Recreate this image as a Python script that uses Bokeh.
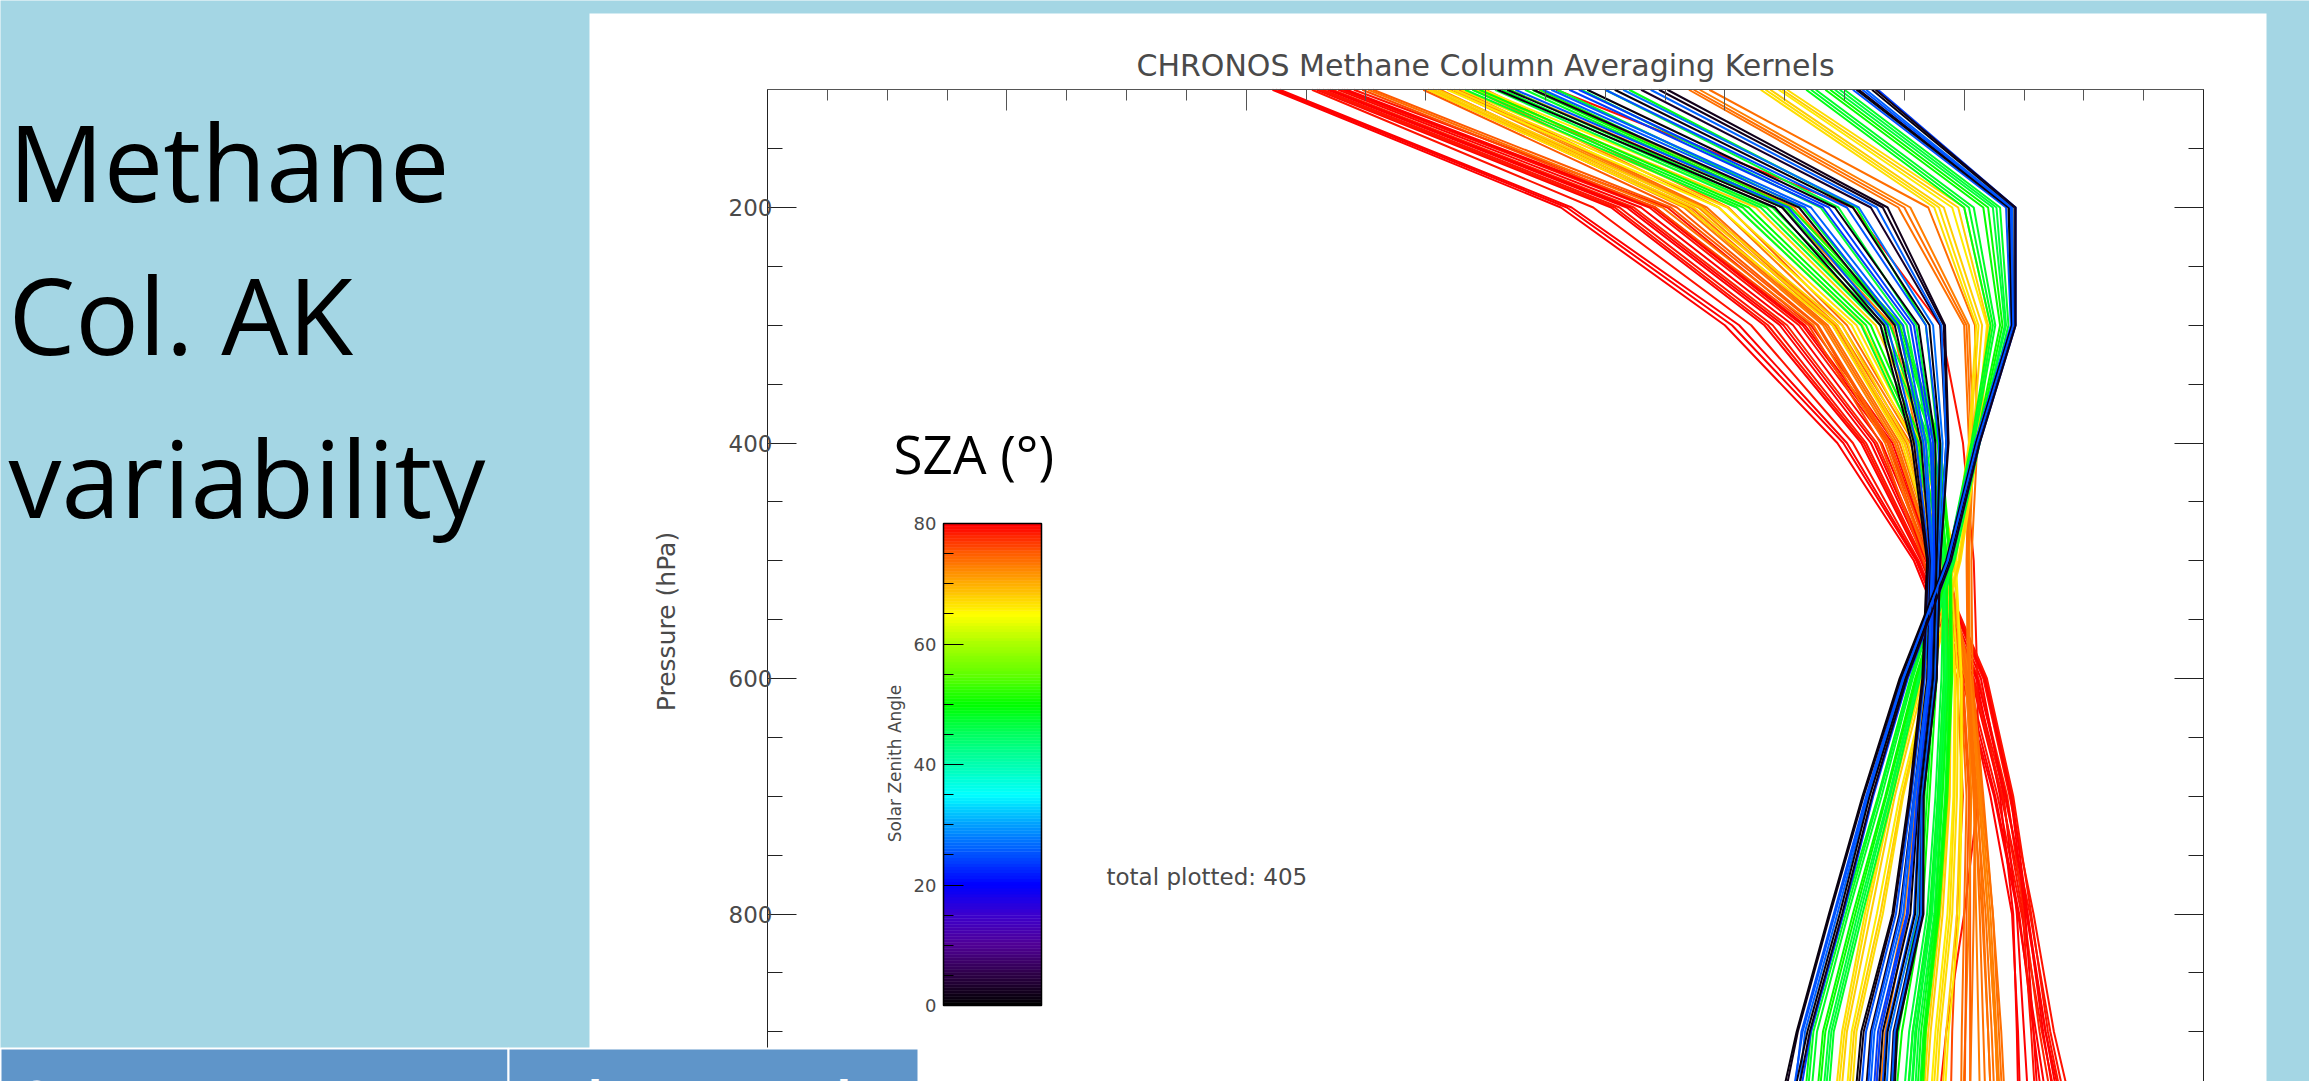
import numpy as np
from bokeh.plotting import figure
from bokeh.models import (Range1d, LinearAxis, FixedTicker, Label,
                          LinearColorMapper, ColumnDataSource)
from bokeh.transform import transform
from bokeh.embed import file_html
from bokeh.resources import INLINE

# ---------------------------------------------------------------- data
# pressure levels (hPa) of every averaging-kernel profile
pressure = [100, 200, 300, 400, 500, 600, 700, 800, 900, 1000]

# column averaging kernels, one row per retrieval, grouped by solar zenith angle
sza_red = [80, 80, 79, 80, 79, 80, 78, 80, 79, 80, 79, 80, 79, 80, 80, 79]
ak_red = [
    [0.422, 0.663, 0.800, 0.894, 0.958, 0.998, 1.025, 1.045, 1.060, 1.075],
    [0.425, 0.668, 0.806, 0.899, 0.960, 1.000, 1.022, 1.040, 1.045, 1.048],
    [0.455, 0.690, 0.822, 0.907, 0.962, 1.003, 1.028, 1.048, 1.065, 1.085],
    [0.459, 0.705, 0.833, 0.914, 0.964, 1.006, 1.031, 1.052, 1.068, 1.090],
    [0.464, 0.712, 0.840, 0.918, 0.966, 1.008, 1.034, 1.055, 1.072, 1.093],
    [0.468, 0.718, 0.846, 0.922, 0.968, 1.010, 1.030, 1.041, 1.044, 1.046],
    [0.472, 0.724, 0.852, 0.927, 0.970, 1.012, 1.036, 1.050, 1.063, 1.080],
    [0.477, 0.730, 0.857, 0.931, 0.972, 1.014, 1.033, 1.044, 1.050, 1.056],
    [0.480, 0.737, 0.862, 0.936, 0.974, 1.016, 1.038, 1.058, 1.075, 1.098],
    [0.484, 0.742, 0.867, 0.940, 0.976, 1.018, 1.040, 1.053, 1.066, 1.082],
    [0.659, 0.907, 0.980, 0.999, 1.008, 1.011, 1.012, 1.000, 0.985, 0.975],
    [0.428, 0.672, 0.812, 0.902, 0.961, 1.001, 1.026, 1.046, 1.058, 1.070],
    [0.461, 0.708, 0.836, 0.916, 0.965, 1.007, 1.032, 1.049, 1.056, 1.062],
    [0.470, 0.721, 0.849, 0.925, 0.969, 1.011, 1.035, 1.053, 1.068, 1.086],
    [0.482, 0.740, 0.865, 0.938, 0.975, 1.017, 1.039, 1.051, 1.058, 1.064],
    [0.490, 0.752, 0.872, 0.942, 0.977, 1.019, 1.041, 1.056, 1.070, 1.090],
]

sza_orange = [76, 74, 75, 73, 74, 72, 74, 73, 73, 74, 73, 74,
              75, 74, 73, 74, 73, 74]
ak_orange = [
    [0.497, 0.742, 0.870, 0.930, 0.966, 0.994, 0.999, 0.994, 0.990, 0.988],
    [0.502, 0.748, 0.874, 0.934, 0.969, 0.997, 1.002, 1.000, 0.998, 0.997],
    [0.548, 0.760, 0.878, 0.938, 0.972, 0.999, 1.005, 1.005, 1.005, 1.005],
    [0.556, 0.766, 0.882, 0.942, 0.975, 1.001, 1.008, 1.010, 1.012, 1.014],
    [0.562, 0.772, 0.886, 0.946, 0.978, 1.003, 1.011, 1.016, 1.020, 1.024],
    [0.570, 0.778, 0.890, 0.950, 0.981, 1.004, 1.013, 1.020, 1.026, 1.030],
    [0.578, 0.785, 0.894, 0.955, 0.984, 1.006, 1.015, 1.024, 1.029, 1.034],
    [0.590, 0.795, 0.898, 0.958, 0.986, 1.002, 1.006, 1.004, 1.001, 0.998],
    [0.620, 0.848, 0.940, 0.962, 0.973, 0.970, 0.960, 0.950, 0.930, 0.922],
    [0.770, 0.945, 1.000, 1.004, 1.002, 1.003, 1.008, 1.015, 1.020, 1.024],
    [0.779, 0.955, 1.004, 1.008, 1.004, 1.005, 1.012, 1.020, 1.026, 1.030],
    [0.787, 0.970, 1.009, 1.011, 1.006, 1.007, 1.016, 1.024, 1.031, 1.036],
    [0.506, 0.755, 0.877, 0.936, 0.970, 0.998, 1.004, 1.002, 1.001, 1.000],
    [0.552, 0.769, 0.884, 0.944, 0.976, 1.002, 1.009, 1.013, 1.016, 1.019],
    [0.574, 0.782, 0.892, 0.952, 0.982, 1.005, 1.014, 1.022, 1.027, 1.032],
    [0.600, 0.803, 0.902, 0.960, 0.987, 1.003, 1.009, 1.008, 1.006, 1.004],
    [0.640, 0.858, 0.945, 0.966, 0.975, 0.972, 0.962, 0.953, 0.934, 0.926],
    [0.774, 0.950, 1.002, 1.006, 1.003, 1.004, 1.010, 1.018, 1.023, 1.027],
]

sza_yellow = [67, 68, 66, 67, 68, 67, 68, 66, 67, 68, 67, 66, 67, 68]
ak_yellow = [
    [0.552, 0.768, 0.890, 0.948, 0.977, 0.987, 0.986, 0.978, 0.968, 0.961],
    [0.560, 0.780, 0.898, 0.953, 0.980, 0.989, 0.988, 0.982, 0.972, 0.965],
    [0.568, 0.795, 0.906, 0.958, 0.984, 0.992, 0.991, 0.986, 0.976, 0.969],
    [0.580, 0.810, 0.915, 0.964, 0.988, 0.995, 0.994, 0.990, 0.980, 0.974],
    [0.592, 0.826, 0.926, 0.970, 0.992, 0.997, 0.997, 0.994, 0.985, 0.979],
    [0.830, 0.975, 1.010, 1.004, 0.990, 0.964, 0.939, 0.917, 0.898, 0.888],
    [0.838, 0.983, 1.015, 1.007, 0.993, 0.967, 0.942, 0.922, 0.902, 0.893],
    [0.845, 0.990, 1.019, 1.010, 0.995, 0.970, 0.946, 0.927, 0.906, 0.898],
    [0.852, 1.000, 1.022, 1.012, 0.997, 0.972, 0.949, 0.932, 0.910, 0.903],
    [0.556, 0.774, 0.894, 0.950, 0.978, 0.988, 0.987, 0.980, 0.970, 0.963],
    [0.574, 0.802, 0.910, 0.961, 0.986, 0.993, 0.992, 0.988, 0.978, 0.971],
    [0.598, 0.835, 0.930, 0.972, 0.993, 0.998, 0.998, 0.996, 0.987, 0.981],
    [0.834, 0.979, 1.012, 1.005, 0.991, 0.965, 0.940, 0.919, 0.900, 0.890],
    [0.848, 0.995, 1.020, 1.011, 0.996, 0.971, 0.948, 0.930, 0.908, 0.900],
]

sza_green = [48, 50, 47, 49, 48, 51, 48, 47, 49, 48, 50, 47, 48,
             49, 48, 50, 47, 49, 48, 50, 47]
ak_green = [
    [0.583, 0.810, 0.914, 0.960, 0.977, 0.973, 0.967, 0.961, 0.943, 0.933],
    [0.595, 0.820, 0.922, 0.965, 0.980, 0.977, 0.971, 0.965, 0.948, 0.939],
    [0.608, 0.830, 0.930, 0.970, 0.983, 0.981, 0.976, 0.969, 0.954, 0.946],
    [0.620, 0.840, 0.938, 0.975, 0.986, 0.985, 0.980, 0.973, 0.960, 0.953],
    [0.633, 0.848, 0.944, 0.978, 0.988, 0.988, 0.984, 0.977, 0.966, 0.960],
    [0.645, 0.855, 0.948, 0.980, 0.989, 0.990, 0.986, 0.979, 0.968, 0.963],
    [0.660, 0.865, 0.945, 0.968, 0.982, 0.983, 0.978, 0.972, 0.957, 0.950],
    [0.700, 0.895, 0.960, 0.975, 0.984, 0.986, 0.981, 0.975, 0.962, 0.956],
    [0.868, 1.000, 1.022, 1.006, 0.986, 0.955, 0.928, 0.899, 0.872, 0.863],
    [0.876, 1.008, 1.026, 1.008, 0.987, 0.957, 0.931, 0.903, 0.877, 0.868],
    [0.884, 1.016, 1.030, 1.010, 0.989, 0.959, 0.934, 0.907, 0.882, 0.873],
    [0.892, 1.024, 1.034, 1.012, 0.990, 0.961, 0.937, 0.911, 0.887, 0.878],
    [0.900, 1.030, 1.037, 1.013, 0.992, 0.963, 0.940, 0.915, 0.891, 0.883],
    [0.589, 0.815, 0.918, 0.962, 0.978, 0.975, 0.969, 0.963, 0.945, 0.936],
    [0.614, 0.835, 0.934, 0.972, 0.984, 0.983, 0.978, 0.971, 0.957, 0.949],
    [0.639, 0.851, 0.946, 0.979, 0.988, 0.989, 0.985, 0.978, 0.967, 0.961],
    [0.680, 0.880, 0.952, 0.971, 0.983, 0.984, 0.979, 0.973, 0.959, 0.953],
    [0.720, 0.910, 0.968, 0.978, 0.985, 0.987, 0.982, 0.976, 0.964, 0.958],
    [0.872, 1.004, 1.024, 1.007, 0.986, 0.956, 0.929, 0.901, 0.874, 0.865],
    [0.888, 1.020, 1.032, 1.011, 0.990, 0.960, 0.935, 0.909, 0.884, 0.875],
    [0.896, 1.027, 1.035, 1.012, 0.991, 0.962, 0.938, 0.913, 0.889, 0.880],
]

sza_blue = [1, 25, 2, 26, 24, 1, 25, 27, 3, 2, 25, 2, 26, 1, 24,
            2, 25, 24, 1, 26, 2, 1, 25, 2]
ak_blue = [
    [0.610, 0.842, 0.930, 0.956, 0.969, 0.965, 0.954, 0.940, 0.914, 0.905],
    [0.625, 0.853, 0.936, 0.960, 0.971, 0.967, 0.956, 0.943, 0.918, 0.910],
    [0.640, 0.862, 0.942, 0.964, 0.972, 0.969, 0.958, 0.946, 0.922, 0.914],
    [0.655, 0.872, 0.949, 0.968, 0.974, 0.971, 0.959, 0.949, 0.925, 0.918],
    [0.670, 0.882, 0.955, 0.972, 0.975, 0.972, 0.961, 0.952, 0.928, 0.921],
    [0.685, 0.892, 0.962, 0.976, 0.976, 0.973, 0.962, 0.955, 0.932, 0.925],
    [0.700, 0.902, 0.968, 0.979, 0.977, 0.974, 0.963, 0.958, 0.935, 0.928],
    [0.715, 0.912, 0.974, 0.982, 0.978, 0.975, 0.964, 0.961, 0.938, 0.932],
    [0.730, 0.922, 0.980, 0.985, 0.979, 0.976, 0.965, 0.963, 0.941, 0.936],
    [0.745, 0.932, 0.983, 0.986, 0.980, 0.977, 0.966, 0.965, 0.943, 0.938],
    [0.907, 1.035, 1.039, 1.009, 0.985, 0.948, 0.918, 0.891, 0.864, 0.853],
    [0.912, 1.038, 1.040, 1.010, 0.986, 0.947, 0.916, 0.888, 0.861, 0.841],
    [0.918, 1.040, 1.041, 1.011, 0.987, 0.950, 0.920, 0.894, 0.867, 0.857],
    [0.923, 1.042, 1.042, 1.012, 0.988, 0.951, 0.921, 0.896, 0.869, 0.848],
    [0.928, 1.043, 1.043, 1.013, 0.989, 0.953, 0.924, 0.899, 0.872, 0.855],
    [0.618, 0.848, 0.933, 0.958, 0.970, 0.966, 0.955, 0.941, 0.916, 0.907],
    [0.648, 0.867, 0.945, 0.966, 0.973, 0.970, 0.958, 0.947, 0.923, 0.916],
    [0.678, 0.887, 0.958, 0.974, 0.975, 0.972, 0.961, 0.953, 0.930, 0.923],
    [0.708, 0.907, 0.971, 0.980, 0.977, 0.974, 0.963, 0.959, 0.936, 0.930],
    [0.738, 0.927, 0.981, 0.985, 0.979, 0.976, 0.965, 0.964, 0.942, 0.937],
    [0.752, 0.936, 0.984, 0.987, 0.980, 0.977, 0.966, 0.966, 0.944, 0.940],
    [0.910, 1.037, 1.040, 1.010, 0.985, 0.946, 0.915, 0.887, 0.860, 0.838],
    [0.915, 1.039, 1.041, 1.011, 0.986, 0.949, 0.919, 0.892, 0.865, 0.850],
    [0.926, 1.043, 1.043, 1.013, 0.989, 0.952, 0.923, 0.898, 0.871, 0.852],
]

# colour bar scale and axis ticks
sza_min, sza_max = 0, 80
sza_major = [0, 20, 40, 60, 80]
sza_minor = [5, 10, 15, 25, 30, 35, 45, 50, 55, 65, 70, 75]
p_major = [200, 400, 600, 800, 1000]
p_minor = [150, 250, 300, 350, 450, 500, 550, 650, 700, 750, 850, 900, 950]
ak_major = [0.0, 0.2, 0.4, 0.6, 0.8, 1.0, 1.2]
ak_minor = [0.05, 0.1, 0.15, 0.25, 0.3, 0.35, 0.45, 0.5, 0.55, 0.65, 0.7, 0.75,
            0.85, 0.9, 0.95, 1.05, 1.1, 1.15]
ak_lo, ak_hi = 0.0, 1.2
p_lo, p_hi = 100, 1000

# ---------------------------------------------------------------- page geometry
W, H = 2309, 1081
LIGHT_BLUE = "#A4D6E4"
TABLE_BLUE = "#5F95C9"
IDL_FONT = "DejaVu Sans"
SLIDE_FONT = "Open Sans"
INK = "#4a4a4a"

# plot box in page pixels
BOX_L, BOX_R, BOX_T = 767.0, 2203.0, 89.25
PX_PER_HPA = 1.1775
PX_PER_AK = (BOX_R - BOX_L) / (ak_hi - ak_lo)


def gx(px):
    """page x pixel -> kernel value"""
    return ak_lo + (px - BOX_L) / PX_PER_AK


def gy(py):
    """page y pixel -> pressure"""
    return p_lo + (py - BOX_T) / PX_PER_HPA


# colour bar box in page pixels
CB_L, CB_R, CB_T, CB_B = 943.0, 1041.0, 523.0, 1005.0
PX_PER_SZA = (CB_B - CB_T) / (sza_max - sza_min)


def gs(py):
    """page y pixel -> solar zenith angle on the colour bar"""
    return sza_min + (CB_B - py) / PX_PER_SZA


# rainbow + black colour table
anchor_pos = [0, 5, 10, 15, 20, 25, 30, 35, 40, 45, 50, 55, 60, 65, 70, 75, 80]
anchor_rgb = [
    (0, 0, 0), (45, 0, 70), (80, 0, 150), (60, 0, 205), (0, 0, 255),
    (0, 80, 255), (0, 160, 255), (0, 255, 255), (0, 255, 176), (0, 255, 96),
    (0, 255, 0), (96, 255, 0), (168, 255, 0), (255, 255, 0), (255, 176, 0),
    (255, 96, 0), (255, 0, 0),
]
grid = np.linspace(0, 80, 256)
chan = np.array(anchor_rgb, dtype=float)
palette = []
for g in grid:
    rgb = [int(round(np.interp(g, anchor_pos, chan[:, k]))) for k in range(3)]
    palette.append("#%02x%02x%02x" % tuple(rgb))
mapper = LinearColorMapper(palette=palette, low=sza_min, high=sza_max)

# ---------------------------------------------------------------- figure
p = figure(width=W, height=H, output_backend="svg", toolbar_location=None,
           x_range=Range1d(gx(0), gx(W)), y_range=Range1d(gy(H), gy(0)),
           x_axis_location=None, y_axis_location=None, min_border=0,
           outline_line_color=None, background_fill_color=LIGHT_BLUE,
           border_fill_color=LIGHT_BLUE)
p.grid.visible = False
p.extra_y_ranges = {"sza": Range1d(gs(H), gs(0))}

# white panel behind the plot
p.quad(left=gx(589), right=gx(2266), top=gy(13), bottom=gy(H + 20),
       fill_color="white", line_color=None, level="underlay")

# averaging kernel profiles
xs, ys, szas = [], [], []
for sza_group, ak_group in [(sza_red, ak_red), (sza_orange, ak_orange),
                            (sza_yellow, ak_yellow), (sza_green, ak_green),
                            (sza_blue, ak_blue)]:
    for s, row in zip(sza_group, ak_group):
        xs.append(row)
        ys.append(pressure)
        szas.append(s)
src = ColumnDataSource(dict(xs=xs, ys=ys, sza=szas))
p.multi_line("xs", "ys", source=src, line_color=transform("sza", mapper),
             line_width=2)


# axes drawn IDL style, ticks pointing into the box
def style_axis(ax, major, minor, labels=True, color="#222222"):
    ax.major_tick_in, ax.major_tick_out = major, 0
    ax.minor_tick_in, ax.minor_tick_out = minor, 0
    ax.axis_line_color = color
    ax.major_tick_line_color = color
    ax.minor_tick_line_color = color
    if labels:
        ax.major_label_text_font = IDL_FONT
        ax.major_label_text_color = INK
    else:
        ax.major_label_text_color = None


left_ax = LinearAxis(fixed_location=ak_lo, bounds=(p_lo, p_hi),
                     ticker=FixedTicker(ticks=p_major, minor_ticks=p_minor))
style_axis(left_ax, 29, 15)
left_ax.major_label_text_font_size = "23px"
left_ax.major_label_standoff = -5
p.add_layout(left_ax, "left")

right_ax = LinearAxis(fixed_location=ak_hi, bounds=(p_lo, p_hi),
                      ticker=FixedTicker(ticks=p_major, minor_ticks=p_minor))
style_axis(right_ax, 29, 15, labels=False)
p.add_layout(right_ax, "right")

top_ax = LinearAxis(fixed_location=p_lo, bounds=(ak_lo, ak_hi),
                    ticker=FixedTicker(ticks=ak_major, minor_ticks=ak_minor))
style_axis(top_ax, 21, 11, labels=False, color="#555555")
p.add_layout(top_ax, "above")

# colour bar
levels = np.arange(sza_min, sza_max, 0.5)
cb_src = ColumnDataSource(dict(bottom=levels, top=levels + 0.5, mid=levels + 0.25))
p.quad(left=gx(CB_L), right=gx(CB_R), bottom="bottom", top="top", source=cb_src,
       y_range_name="sza", fill_color=transform("mid", mapper),
       line_color=transform("mid", mapper), line_width=0.5)
p.quad(left=gx(CB_L), right=gx(CB_R), bottom=sza_min, top=sza_max,
       y_range_name="sza", fill_color=None, line_color="black", line_width=1.5)
cb_ax = LinearAxis(y_range_name="sza", fixed_location=gx(CB_L),
                   bounds=(sza_min, sza_max),
                   ticker=FixedTicker(ticks=sza_major, minor_ticks=sza_minor))
style_axis(cb_ax, 20, 10, color="black")
cb_ax.major_label_text_font_size = "18px"
cb_ax.major_label_standoff = 7
p.add_layout(cb_ax, "left")


# ---------------------------------------------------------------- texts
def add_text(px, py, text, **kw):
    p.add_layout(Label(x=gx(px), y=gy(py), text=text, **kw))


add_text(1485, 65, "CHRONOS Methane Column Averaging Kernels",
         text_font=IDL_FONT, text_font_size="30px", text_color=INK,
         text_align="center", text_baseline="alphabetic")
add_text(666, 621, "Pressure (hPa)", angle=np.pi / 2, text_font=IDL_FONT,
         text_font_size="25px", text_color=INK, text_align="center",
         text_baseline="middle")
add_text(894, 763, "Solar Zenith Angle", angle=np.pi / 2, text_font=IDL_FONT,
         text_font_size="17px", text_color=INK, text_align="center",
         text_baseline="middle")
add_text(1106, 876, "total plotted: 405", text_font=IDL_FONT,
         text_font_size="23px", text_color=INK, text_baseline="alphabetic")
add_text(893, 453, "SZA (\u00b0)", text_font=SLIDE_FONT, text_font_size="53px",
         text_color="black", text_baseline="alphabetic")

for line, base in [("Methane", 160), ("Col. AK", 313), ("variability", 476)]:
    add_text(8, base, line, text_font=SLIDE_FONT, text_font_size="106px",
             text_color="black", text_baseline="alphabetic")

# table header strip along the bottom edge
p.quad(left=[gx(0), gx(508)], right=[gx(508), gx(918)],
       top=[gy(1048), gy(1048)], bottom=[gy(H + 40), gy(H + 40)],
       fill_color=TABLE_BLUE, line_color="white", line_width=2,
       level="annotation")
add_text(22, 1097, "State parameter", text_font=SLIDE_FONT,
         text_font_size="48px", text_font_style="bold", text_color="white",
         text_baseline="alphabetic")
add_text(527, 1097, "Values tested", text_font=SLIDE_FONT,
         text_font_size="48px", text_font_style="bold", text_color="white",
         text_baseline="alphabetic")

open("out.html", "w").write(file_html(p, INLINE))
